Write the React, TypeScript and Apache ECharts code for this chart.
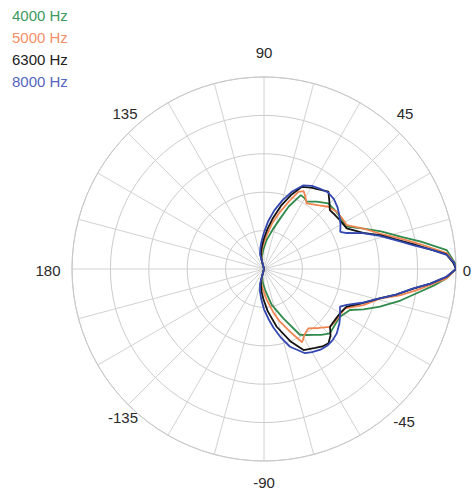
import React, { useEffect, useRef } from "react";
import * as echarts from "echarts";

// ---- Data (angle in degrees, radius normalised to 1) ----
const seriesNames = ["4000 Hz", "5000 Hz", "6300 Hz", "8000 Hz"];

const theta4000 = [120, 104, 98, 92, 85, 77.6, 72, 68.4, 63.5, 60, 57.6, 52, 45.6, 40, 34.5, 27.1, 22, 17.8, 13, 9.9, 5.9, 1.8, 0, -2.9, -5.5, -8.3, -13, -18, -22, -25.5, -32.1, -38, -44.3, -49, -53, -57, -61.4, -68.6, -78, -87, -95, -104, -120];
const r4000 = [0, 0.04, 0.07, 0.1, 0.15, 0.21, 0.28, 0.35, 0.43, 0.425, 0.415, 0.445, 0.479, 0.48, 0.48, 0.484, 0.56, 0.64, 0.74, 0.83, 0.957, 0.995, 1.0, 0.953, 0.89, 0.821, 0.73, 0.635, 0.56, 0.496, 0.467, 0.47, 0.48, 0.455, 0.43, 0.41, 0.39, 0.276, 0.19, 0.11, 0.07, 0.04, 0];

const theta5000 = [120, 104, 100, 95, 90, 85, 80, 75, 70, 66, 63, 61, 57, 50, 44.1, 38.2, 33, 28, 22, 16.8, 12.5, 9.1, 5, 2, 0, -3, -5.5, -8, -11, -14, -20, -25.9, -31, -36.6, -41.2, -47, -53.2, -58, -62.5, -67, -73.1, -78, -85, -92.5, -100, -104, -120];
const r5000 = [0, 0.05, 0.08, 0.11, 0.14, 0.18, 0.24, 0.3, 0.37, 0.44, 0.455, 0.44, 0.408, 0.434, 0.466, 0.482, 0.485, 0.488, 0.56, 0.635, 0.73, 0.823, 0.955, 0.99, 1.0, 0.95, 0.87, 0.8, 0.72, 0.63, 0.55, 0.469, 0.462, 0.46, 0.457, 0.42, 0.386, 0.4, 0.43, 0.36, 0.287, 0.23, 0.16, 0.11, 0.08, 0.05, 0];

const theta6300 = [120, 105, 100, 95, 90, 85, 80, 75, 70, 65.4, 60, 55, 50.2, 46, 41.8, 37, 32.8, 26.2, 20, 16.3, 12, 9.5, 4.7, 2, 0, -2.5, -5, -7.5, -11, -14, -20, -24.5, -30.2, -35, -41.2, -45, -49, -53, -57, -60, -64, -70, -77.6, -85, -91.4, -96, -100, -105, -120];
const r6300 = [0, 0.06, 0.09, 0.12, 0.16, 0.21, 0.27, 0.34, 0.41, 0.47, 0.49, 0.505, 0.524, 0.49, 0.46, 0.465, 0.47, 0.48, 0.55, 0.63, 0.72, 0.787, 0.951, 0.985, 1.0, 0.95, 0.87, 0.785, 0.7, 0.625, 0.53, 0.473, 0.458, 0.455, 0.457, 0.49, 0.512, 0.505, 0.49, 0.48, 0.47, 0.4, 0.308, 0.22, 0.155, 0.12, 0.09, 0.06, 0];

const theta8000 = [120, 105, 100, 95, 90, 85, 80, 75, 70, 65, 60, 55, 50, 45, 40, 35, 30, 26, 23.5, 20, 16, 12, 9, 6.5, 4.4, 2, 0, -2.4, -5, -7.4, -11, -14.2, -19, -23.5, -26.4, -32, -36, -41.5, -46, -50, -55, -60, -64, -71.5, -76, -80.8, -85, -90, -95, -100, -105, -120];
const r8000 = [0, 0.08, 0.11, 0.145, 0.19, 0.25, 0.31, 0.37, 0.43, 0.48, 0.5, 0.51, 0.52, 0.515, 0.5, 0.48, 0.46, 0.442, 0.47, 0.545, 0.627, 0.71, 0.79, 0.88, 0.954, 0.99, 1.0, 0.952, 0.87, 0.784, 0.7, 0.623, 0.54, 0.47, 0.442, 0.467, 0.485, 0.506, 0.515, 0.518, 0.513, 0.5, 0.488, 0.427, 0.37, 0.31, 0.26, 0.21, 0.16, 0.12, 0.08, 0];

const angleTickLabels = ["90", "45", "0", "-45", "-90", "-135", "180", "135"];

const lineColors = ["#2f8a4c", "#f08550", "#141414", "#3347b0"];
const textColors = ["#3d9a5e", "#f4906a", "#222222", "#5566c0"];

const FONT = "'Liberation Sans', Arial, Helvetica, sans-serif";

export default function App() {
  const ref = useRef<HTMLDivElement>(null);

  useEffect(() => {
    if (!ref.current) return;
    const chart = echarts.init(ref.current, undefined, { renderer: "svg" });

    const cx = 264;
    const cy = 269;
    const R = 192;

    const pairs = [
      [theta4000, r4000],
      [theta5000, r5000],
      [theta6300, r6300],
      [theta8000, r8000],
    ];

    // label offsets from the polar centre (layout only)
    const labelOffset: Record<string, [number, number]> = {
      "90": [0, -217],
      "45": [141, -156],
      "0": [203, 1],
      "-45": [140, 152],
      "-90": [0, 213],
      "-135": [-141, 148],
      "180": [-216, 1],
      "135": [-139, -156],
    };

    const labelGraphics = angleTickLabels.map((key) => {
      const off = labelOffset[key];
      return {
        type: "text",
        x: cx + off[0],
        y: cy + off[1],
        silent: true,
        style: {
          text: key,
          align: "center",
          verticalAlign: "middle",
          fill: "#2a2a2a",
          font: `15px ${FONT}`,
        },
      };
    });

    const option: any = {
      animation: false,
      backgroundColor: "#ffffff",
      polar: { center: [cx, cy], radius: R },
      angleAxis: {
        type: "value",
        min: -180,
        max: 180,
        interval: 15,
        startAngle: 180,
        clockwise: false,
        axisLine: { show: true, lineStyle: { color: "#c9c9c9", width: 1 } },
        axisTick: { show: false },
        axisLabel: { show: false },
        splitLine: { show: true, lineStyle: { color: "#d2d2d2", width: 1 } },
      },
      radiusAxis: {
        type: "value",
        min: 0,
        max: 1,
        interval: 0.2,
        axisLine: { show: false },
        axisTick: { show: false },
        axisLabel: { show: false },
        splitLine: { show: true, lineStyle: { color: "#cccccc", width: 1 } },
      },
      legend: {
        orient: "vertical",
        left: 0,
        top: 2,
        padding: 5,
        itemWidth: 2,
        itemHeight: 16,
        itemGap: 6,
        icon: "rect",
        itemStyle: { opacity: 0 },
        selectedMode: false,
        data: seriesNames.map((n, i) => ({
          name: n,
          textStyle: { color: textColors[i], fontSize: 15, fontFamily: FONT, lineHeight: 16 },
        })),
      },
      graphic: labelGraphics,
      series: pairs.map(([th, rr], i) => ({
        name: seriesNames[i],
        type: "line",
        coordinateSystem: "polar",
        showSymbol: false,
        symbol: "none",
        smooth: false,
        lineStyle: { color: lineColors[i], width: 1.8 },
        itemStyle: { color: lineColors[i] },
        z: 2 + i,
        data: th.map((t, k) => [rr[k], t]),
      })),
    };

    chart.setOption(option);
    return () => chart.dispose();
  }, []);

  return (
    <div
      ref={ref}
      style={{ position: "absolute", left: 0, top: 0, width: 473, height: 491, background: "#fff" }}
    />
  );
}
